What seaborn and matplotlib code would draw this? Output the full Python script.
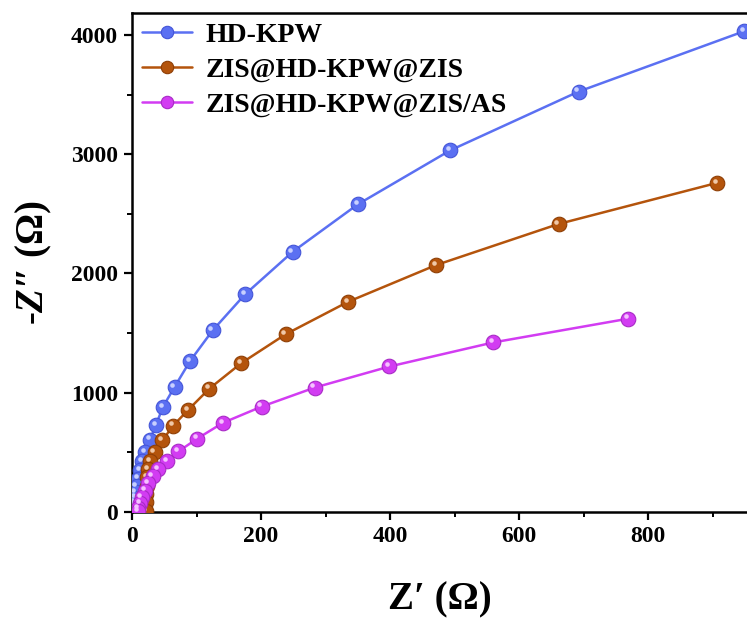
import matplotlib
matplotlib.use("Agg")
import matplotlib.pyplot as plt
import seaborn as sns
import pandas as pd
import numpy as np
from matplotlib.ticker import MultipleLocator
import matplotlib.transforms as mtrans

# ---- data ----
series_names = ["HD-KPW", "ZIS@HD-KPW@ZIS", "ZIS@HD-KPW@ZIS/AS"]

hd_x = [948, 692, 493, 350, 249, 175, 125, 90, 66, 48, 37, 28, 20, 15.5, 12, 9, 7, 5.5, 4.5, 3.5, 2.8, 2.2, 1.8]
hd_y = [4030, 3525, 3032, 2580, 2182, 1824, 1523, 1266, 1049, 882, 728, 607, 505, 425, 350, 280, 220, 165, 120, 80, 48, 22, 5]

zis_x = [907, 661, 471, 335, 238, 169, 120, 87, 64, 47, 35, 28, 25, 23.5, 22.5, 22, 22, 22]
zis_y = [2760, 2415, 2070, 1763, 1490, 1247, 1035, 856, 725, 600, 502, 428, 360, 290, 220, 150, 80, 10]

as_x = [769, 560, 399, 283, 201, 141, 101, 72, 54, 40, 32, 25, 20, 15, 12, 10, 9]
as_y = [1621, 1422, 1220, 1043, 884, 748, 615, 508, 429, 360, 304, 240, 180, 125, 75, 35, 8]

x_ticks = [0, 200, 400, 600, 800]
y_ticks = [0, 1000, 2000, 3000, 4000]

colors = ["#5b70f2", "#b4540c", "#d23cf2"]
edge_colors = ["#4455d8", "#8e3e05", "#a82bc6"]
hi_colors = ["#c8d0ff", "#f0c8a8", "#f5c2ff"]

frames = []
for name, xs, ys in zip(series_names, [hd_x, zis_x, as_x], [hd_y, zis_y, as_y]):
    frames.append(pd.DataFrame({"x": xs, "y": ys, "sample": name, "order": np.arange(len(xs))}))
df = pd.concat(frames, ignore_index=True)

sns.set_style("ticks")
plt.rcParams["font.family"] = ["Liberation Serif", "DejaVu Serif"]
plt.rcParams["font.weight"] = "bold"
plt.rcParams["mathtext.fontset"] = "custom"
plt.rcParams["mathtext.bfit"] = "Liberation Serif:italic:bold"
plt.rcParams["mathtext.rm"] = "Liberation Serif:bold"
for k in ["text.color", "axes.labelcolor", "xtick.color", "ytick.color", "axes.edgecolor"]:
    plt.rcParams[k] = "black"

fig = plt.figure(figsize=(7.47, 6.26), dpi=100)
ax = fig.add_axes([132 / 747, 114 / 626, 1 - 132 / 747, (512 - 13) / 626])

for i, name in enumerate(series_names):
    sub = df[df["sample"] == name]
    sns.lineplot(data=sub, x="x", y="y", sort=False, ax=ax, color=colors[i],
                 lw=1.8, marker="o", markersize=10.5, markeredgecolor=edge_colors[i],
                 markeredgewidth=0.8, label=name, estimator=None, zorder=3 + i)
    # specular highlight on the spherical markers
    offset = mtrans.offset_copy(ax.transData, fig=fig, x=-1.6, y=1.6, units="points")
    ax.plot(sub["x"], sub["y"], ls="none", marker="o", markersize=3.3,
            color=hi_colors[i], markeredgewidth=0, transform=offset, zorder=3 + i + 0.5)

ax.set_xlim(0, 953)
ax.set_ylim(0, 4184)
ax.set_xticks(x_ticks)
ax.set_yticks(y_ticks)
ax.xaxis.set_minor_locator(MultipleLocator(100))
ax.yaxis.set_minor_locator(MultipleLocator(500))
ax.tick_params(which="major", direction="out", length=6, width=1.6, labelsize=17, pad=4)
ax.tick_params(which="minor", direction="out", length=3.5, width=1.4)
for lab in ax.get_xticklabels() + ax.get_yticklabels():
    lab.set_fontweight("bold")
for s in ["left", "bottom", "top"]:
    ax.spines[s].set_linewidth(1.8)
ax.spines["right"].set_visible(False)

ax.set_xlabel("Z′ (Ω)", fontsize=28, fontweight="bold", labelpad=25)
ax.set_ylabel(r"-$\mathbfit{Z}$″ (Ω)", fontsize=28, fontweight="bold", labelpad=12)

leg = ax.legend(loc="upper left", frameon=False, prop={"weight": "bold", "size": 20},
                handlelength=1.8, handletextpad=0.5, labelspacing=0.33,
                borderaxespad=0.1, borderpad=0.25, markerscale=0.85)

fig.savefig("out.png", dpi=100)
